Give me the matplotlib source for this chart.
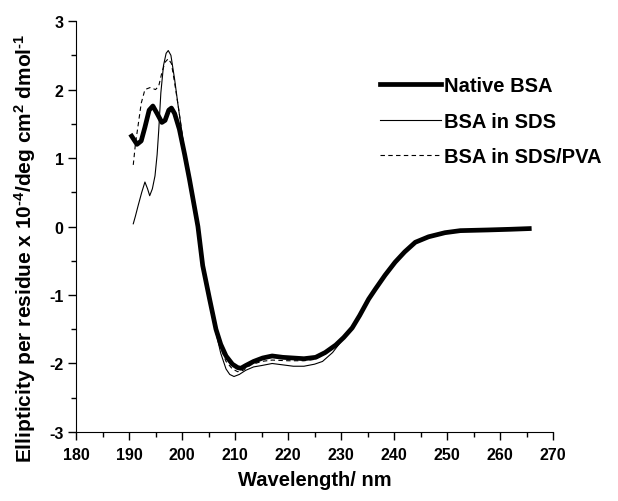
import matplotlib.pyplot as plt
from matplotlib.ticker import MultipleLocator

plt.rcParams['font.family'] = ['Liberation Sans', 'DejaVu Sans']
plt.rcParams['font.weight'] = 'bold'
plt.rcParams['axes.unicode_minus'] = False
plt.rcParams['mathtext.fontset'] = 'custom'
plt.rcParams['mathtext.bf'] = 'Liberation Sans:bold'
plt.rcParams['mathtext.rm'] = 'Liberation Sans:bold'
plt.rcParams['mathtext.default'] = 'bf'

# Native BSA (thick line)
native_wl = [190.5, 191.5, 192.3, 193.0, 193.8, 194.5, 195.3, 196.2, 196.8, 197.5,
             198.0, 198.6, 199.5, 200.5, 201.4, 202.4, 203.0, 203.9, 205.2, 206.4,
             207.3, 208.3, 209.5, 210.5, 211.1, 212.0, 213.5, 215.2, 217.0, 219.0,
             221.0, 223.0, 225.2, 227.0, 229.0, 230.5, 232.1, 233.5, 235.2, 236.5,
             238.3, 240.2, 242.0, 244.0, 246.5, 249.6, 252.5, 257.7, 262.0, 265.5]
native_cd = [1.32, 1.20, 1.25, 1.45, 1.70, 1.76, 1.65, 1.52, 1.55, 1.70,
             1.73, 1.65, 1.42, 1.05, 0.69, 0.26, 0.00, -0.57, -1.06, -1.50,
             -1.72, -1.89, -2.01, -2.06, -2.07, -2.03, -1.97, -1.92, -1.89, -1.91,
             -1.92, -1.93, -1.91, -1.84, -1.73, -1.62, -1.48, -1.30, -1.06, -0.91,
             -0.71, -0.52, -0.37, -0.23, -0.15, -0.09, -0.06, -0.05, -0.04, -0.03]

# BSA in SDS (thin line)
sds_wl = [190.8, 191.2, 191.7, 192.4, 193.0, 193.5, 193.9, 194.4, 194.9, 195.3,
          195.6, 196.0, 196.5, 197.0, 197.4, 197.9, 198.6, 199.2, 199.9, 200.5,
          201.4, 202.4, 203.0, 203.9, 205.2, 206.4, 207.3, 208.3, 209.0, 209.8,
          210.8, 212.0, 213.5, 215.0, 217.0, 219.0, 221.0, 223.0, 225.0, 226.5,
          228.4, 230.0, 232.1, 233.5, 235.2, 236.5, 238.3, 240.2, 242.0, 244.0,
          246.5, 249.6, 252.5, 257.7, 262.0, 265.5]
sds_cd = [0.04, 0.15, 0.30, 0.50, 0.65, 0.55, 0.45, 0.55, 0.74, 1.05,
          1.40, 1.95, 2.35, 2.53, 2.57, 2.50, 2.15, 1.80, 1.42, 1.05,
          0.69, 0.26, 0.00, -0.57, -1.08, -1.55, -1.85, -2.08, -2.16, -2.19,
          -2.16, -2.10, -2.05, -2.03, -2.00, -2.02, -2.04, -2.04, -2.01, -1.97,
          -1.84, -1.68, -1.48, -1.30, -1.06, -0.91, -0.71, -0.52, -0.37, -0.23,
          -0.15, -0.09, -0.06, -0.05, -0.04, -0.03]

# BSA in SDS/PVA (dashed line)
pva_wl = [190.8, 191.2, 191.7, 192.3, 193.0, 194.0, 195.0, 195.6, 196.2, 196.8,
          197.4, 198.0, 198.6, 199.3, 199.9, 200.5, 201.4, 202.4, 203.0, 203.9,
          205.2, 206.4, 207.3, 208.3, 209.5, 210.5, 211.5, 213.0, 215.0, 217.0,
          220.0, 223.0, 225.0, 227.0, 229.0, 230.5, 232.1, 233.5, 235.2, 236.5,
          238.3, 240.2, 242.0, 244.0, 246.5, 249.6, 252.5, 257.7, 262.0, 265.5]
pva_cd = [0.90, 1.20, 1.47, 1.80, 2.00, 2.03, 2.00, 2.05, 2.25, 2.40,
          2.45, 2.38, 2.10, 1.75, 1.42, 1.05, 0.69, 0.26, 0.00, -0.57,
          -1.07, -1.52, -1.78, -1.97, -2.08, -2.12, -2.10, -2.02, -1.97, -1.95,
          -1.96, -1.96, -1.94, -1.86, -1.75, -1.63, -1.48, -1.30, -1.06, -0.91,
          -0.71, -0.52, -0.37, -0.23, -0.15, -0.09, -0.06, -0.05, -0.04, -0.03]

fig = plt.figure(figsize=(6.18, 5.02), dpi=100)
ax = fig.add_axes([0.123, 0.1375, 0.772, 0.8185])

ax.plot(native_wl, native_cd, color='black', lw=3.4, label='Native BSA')
ax.plot(sds_wl, sds_cd, color='black', lw=0.8, label='BSA in SDS')
ax.plot(pva_wl, pva_cd, color='black', lw=0.8, ls=(0, (4, 3)), label='BSA in SDS/PVA')

ax.set_xlim(180, 270)
ax.set_ylim(-3, 3)
ax.xaxis.set_major_locator(MultipleLocator(10))
ax.xaxis.set_minor_locator(MultipleLocator(5))
ax.yaxis.set_major_locator(MultipleLocator(1))
ax.yaxis.set_minor_locator(MultipleLocator(0.5))
ax.tick_params(which='major', direction='out', length=5.5, width=1, labelsize=11.5)
ax.tick_params(axis='x', which='major', pad=5)
ax.tick_params(which='minor', direction='out', length=3.5, width=1)
ax.spines['top'].set_visible(False)
ax.spines['right'].set_visible(False)

ax.set_xlabel('Wavelength/ nm', fontsize=14.5, fontweight='bold', labelpad=6)
ax.set_ylabel('Ellipticity per residue x 10$^{\u20104}$/deg cm$^{2}$ dmol$^{\u20101}$',
              fontsize=15, fontweight='bold')
ax.yaxis.set_label_coords(-0.08, 0.45)

leg = ax.legend(loc='upper left', bbox_to_anchor=(0.6, 0.91), frameon=False,
                handlelength=3.0, handletextpad=0.15, labelspacing=0.82,
                prop={'size': 14.5, 'weight': 'bold'})

fig.canvas.draw()
for lbl in ax.get_xticklabels() + ax.get_yticklabels():
    lbl.set_fontweight('bold')

fig.savefig('out.png', dpi=100)
